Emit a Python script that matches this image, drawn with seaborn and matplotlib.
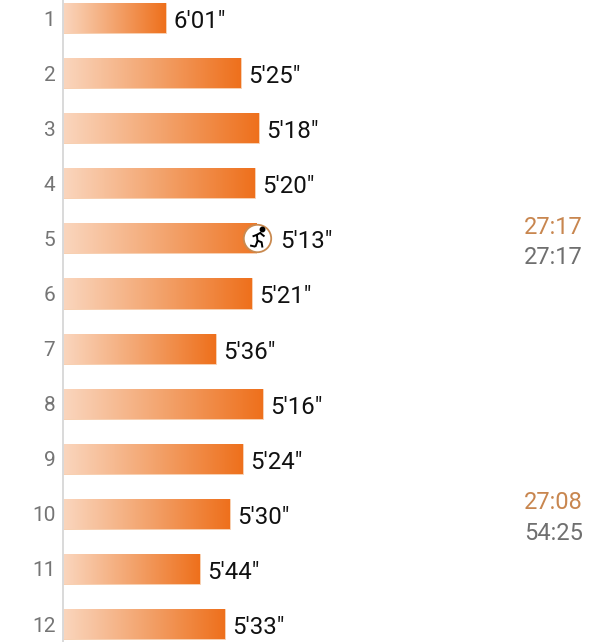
import matplotlib.pyplot as plt
import matplotlib.colors as mcolors
import numpy as np
import pandas as pd
import seaborn as sns
from matplotlib.path import Path
from matplotlib.transforms import ScaledTranslation

km = ['1', '2', '3', '4', '5', '6', '7', '8', '9', '10', '11', '12']
pace_labels = ['6\'01"', '5\'25"', '5\'18"', '5\'20"', '5\'13"', '5\'21"',
               '5\'36"', '5\'16"', '5\'24"', '5\'30"', '5\'44"', '5\'33"']
# bar lengths
bar_lengths = [103, 178, 196, 192, 207, 189, 153, 200, 180, 167, 137, 162]

split_km = ['5', '10']
split_times = ['27:17', '27:08']
total_times = ['27:17', '54:25']

sns.set_theme(style='white')
plt.rcParams['font.family'] = ['Roboto', 'DejaVu Sans']

df = pd.DataFrame({'km': km, 'length': bar_lengths})

fig = plt.figure(figsize=(6, 6.42), dpi=100)
ax = fig.add_axes([63 / 600, 0, 537 / 600, 1])

sns.barplot(data=df, x='length', y='km', order=km, width=0.545, ax=ax,
            color='white', saturation=1)

# gradient fill, clipped to each bar
cmap = mcolors.LinearSegmentedColormap.from_list('bar', ['#FAD6BE', '#F3A46E', '#EE701C'])
grad = np.linspace(0, 1, 256).reshape(1, -1)
for bar in ax.patches:
    bar.set_edgecolor('#F6C7A4')
    bar.set_linewidth(0.6)
    im = ax.imshow(grad, cmap=cmap, aspect='auto', zorder=2,
                   extent=[bar.get_x(), bar.get_x() + bar.get_width(),
                           bar.get_y() + bar.get_height(), bar.get_y()])
    im.set_clip_path(bar)

ax.set_xlim(0, 537)
ax.set_ylim(11.325, -0.327)
ax.set_xlabel('')
ax.set_ylabel('')
ax.set_xticks([])
ax.tick_params(axis='y', length=0, pad=5.5, labelsize=15, labelcolor='#757575')

sns.despine(ax=ax, top=True, right=True, bottom=True)
ax.spines['left'].set_color('#D9D9D9')
ax.spines['left'].set_linewidth(1.4)

# pace labels; the current km sits further out because of the marker
current = km.index('5')
for i, (value, label) in enumerate(zip(bar_lengths, pace_labels)):
    offset = 7 if i == current else 5.5
    ax.annotate(label, (value, i), xytext=(offset, -2.5), textcoords='offset points',
                va='center', ha='left', fontsize=17.3, color='#111111')

# runner marker on the current km, the half square hides the bar's square end
marker_x = bar_lengths[current] - 13
half_square = Path([(0, -1), (1, -1), (1, 1), (0, 1), (0, -1)], closed=True)
ax.plot([marker_x], [current], marker=half_square, markersize=23, color='white',
        markeredgewidth=0, zorder=3, linestyle='none')
ax.scatter([marker_x], [current], s=390, color='white', edgecolor='#C98A50',
           linewidth=1.3, zorder=4)
runner = Path(
    [(-1, -4), (0, -1.2), (-0.3, 1.8), (1.8, 3), (-0.3, 1.8), (-2.4, 1),
     (-0.2, -1), (2, -1.8), (2.4, -4.4), (1.6, 2.4), (3.4, 1), (-1, -4), (-3.6, -3.4)],
    [Path.MOVETO, Path.LINETO, Path.LINETO, Path.LINETO, Path.MOVETO, Path.LINETO,
     Path.MOVETO, Path.LINETO, Path.LINETO, Path.MOVETO, Path.LINETO, Path.MOVETO, Path.LINETO])
ax.plot([marker_x], [current], marker=runner, markersize=13, fillstyle='none',
        markeredgecolor='black', markeredgewidth=1.4, zorder=5, linestyle='none')
ax.plot([marker_x], [current], marker='o', markersize=3.2, color='black', zorder=5,
        linestyle='none',
        transform=ax.transData + ScaledTranslation(3.5 / 72, 6.5 / 72, fig.dpi_scale_trans))

# split and cumulative times on the right
for k, split, total in zip(split_km, split_times, total_times):
    row = km.index(k)
    ax.annotate(split, (490.5, row), xytext=(0, 8), textcoords='offset points',
                ha='center', va='center', fontsize=17, color='#C8864F')
    ax.annotate(total, (490.5, row), xytext=(0, -14), textcoords='offset points',
                ha='center', va='center', fontsize=17, color='#6F6F6F')

fig.savefig('out.png', dpi=100)
